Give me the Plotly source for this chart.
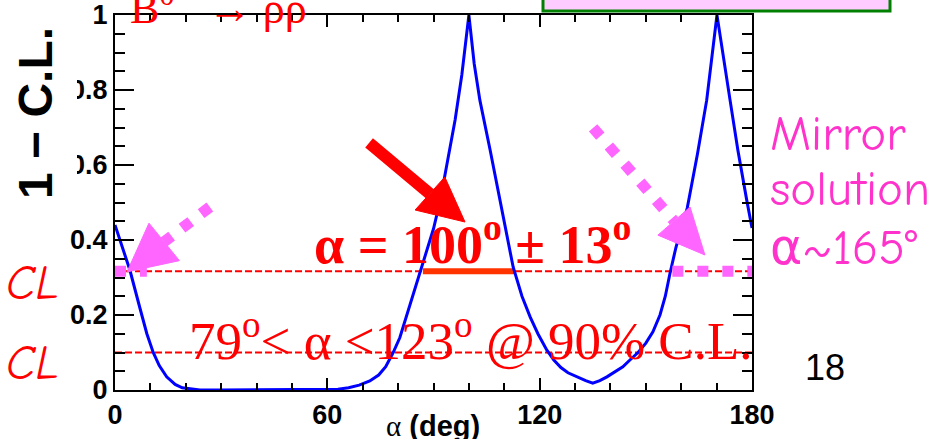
import plotly.graph_objects as go

# ---------------- data ----------------
alpha_deg = [0, 2, 4.2, 7, 9, 10.8, 12.5, 14.6, 17, 19, 21.5, 24, 30, 40, 50, 60, 63, 66, 69, 72,
             74.5, 76.5, 78.6, 80.5, 82.5, 84.5, 86.2, 88, 90, 92, 94, 96.1, 98, 100,
             101.5, 103.1, 106, 108.8, 110.5, 112.5, 115, 117.3, 119.5, 122, 124, 126, 128, 130.5,
             133, 135, 137, 139, 141, 143.5, 145.5, 147.8, 150, 152, 154, 155.5, 156.8, 158.5, 160,
             161.7, 163, 164.6, 167.2, 170.1, 173.8, 176, 178.5, 180]
one_minus_cl = [0.44, 0.38, 0.32, 0.22, 0.15, 0.10, 0.065, 0.035, 0.015, 0.006, 0.002, 0.0, 0.0, 0.0,
                0.0, 0.0, 0.002, 0.006, 0.013, 0.024, 0.04, 0.062, 0.10, 0.14, 0.20, 0.26, 0.315,
                0.37, 0.43, 0.51, 0.61, 0.72, 0.84, 1.0,
                0.87, 0.773, 0.64, 0.507, 0.43, 0.328, 0.25, 0.195, 0.15, 0.107, 0.08, 0.06, 0.046,
                0.035, 0.025, 0.018, 0.025, 0.035, 0.046, 0.062, 0.08, 0.10, 0.125, 0.155, 0.20, 0.25,
                0.31, 0.38, 0.43, 0.485, 0.55, 0.63, 0.773, 1.0, 0.773, 0.64, 0.507, 0.432]

cl_levels = [0.317, 0.10]          # 1 - 68.3% and 1 - 90%
alpha_best = 100
alpha_err = 13
mirror_range = [157.5, 181]
left_mirror_range = [0, 9]

x_ticks = [0, 60, 120, 180]
y_ticks = [0, 0.2, 0.4, 0.6, 0.8, 1]
y_tick_text = ["0", "0.2", "0.4", "0.6", "0.8", "1"]

# arrows (data units): tail, head-base-mid, tip, corner1, corner2
red_arrow = dict(tail=(71.8, 0.659), base=(89.0, 0.523), tip=(98.9, 0.448), c1=(93.2, 0.568), c2=(84.8, 0.48))
pink_left = dict(tail=(26.8, 0.488), base=(13.85, 0.395), tip=(3.39, 0.315), c1=(9.6, 0.445), c2=(18.2, 0.345))
pink_right = dict(tail=(135.1, 0.699), base=(157.95, 0.451), tip=(166.7, 0.36), c1=(162.5, 0.488), c2=(153.4, 0.413))

# ---------------- geometry ----------------
W, H = 946, 439
L, R, T, B = 115, 752, 15, 390


def px(x, y):
    return (x - L) / (R - L), (B - y) / (B - T)


fig = go.Figure()

RED = "#ff0000"
PINK = "#ff66ff"
PINKTXT = "#ff33cc"

for lvl in cl_levels:
    fig.add_trace(go.Scatter(x=[0, 180], y=[lvl, lvl], mode="lines",
                             line=dict(color=RED, width=2, dash="7px,3px"), hoverinfo="skip"))

fig.add_trace(go.Scatter(x=[alpha_best - alpha_err, alpha_best + alpha_err], y=[cl_levels[0]] * 2,
                         mode="lines", line=dict(color="#ff3300", width=6), hoverinfo="skip"))

fig.add_trace(go.Scatter(x=alpha_deg, y=one_minus_cl, mode="lines",
                         line=dict(color="#0000ff", width=3)))

# pink dotted segments
for rng in (mirror_range, left_mirror_range):
    fig.add_trace(go.Scatter(x=rng, y=[cl_levels[0]] * 2, mode="lines",
                             line=dict(color=PINK, width=11, dash="11px,14px"), hoverinfo="skip"))


def arrow(a, color, width, dash=None):
    fig.add_trace(go.Scatter(x=[a["tail"][0], a["base"][0]], y=[a["tail"][1], a["base"][1]],
                             mode="lines", line=dict(color=color, width=width, dash=dash or "solid"),
                             hoverinfo="skip"))
    fig.add_trace(go.Scatter(x=[a["tip"][0], a["c1"][0], a["c2"][0], a["tip"][0]],
                             y=[a["tip"][1], a["c1"][1], a["c2"][1], a["tip"][1]],
                             mode="lines", fill="toself", fillcolor=color,
                             line=dict(color=color, width=1), hoverinfo="skip"))


arrow(pink_left, PINK, 11, "11px,13px")
arrow(pink_right, PINK, 11, "11px,13px")
arrow(red_arrow, RED, 12)

annotations = []


def ann(text, x, y, size, color="black", family="Liberation Sans", weight="normal",
        style="normal", xanchor="center", yanchor="middle", angle=0, **kw):
    xp, yp = px(x, y)
    annotations.append(dict(text=text, x=xp, y=yp, xref="paper", yref="paper", showarrow=False,
                            xanchor=xanchor, yanchor=yanchor, textangle=angle,
                            font=dict(size=size, color=color, family=family, weight=weight, style=style),
                            **kw))


SERIF = "Liberation Serif, Times New Roman, serif"
COMIC = "Comic Sans MS, Comic Neue, DejaVu Sans"
NB = "\u00a0"

ann("B<sup>0</sup>" + NB * 3 + "→" + NB + "ρρ", 128, 35, 44, RED, SERIF, xanchor="left", yanchor="bottom")
ann("1 − C.L.", 36, 113, 48, "black", "Liberation Sans, Arial", weight="bold", angle=-90)
ann("<span style='font-family:Liberation Serif;font-weight:normal'>α</span> (deg)", 433, 426, 29,
    "black", "Liberation Sans, Arial", weight="bold")
ann("18", 825, 367, 36, "black", "Liberation Sans, Arial")
ann("CL", 32, 283, 48, RED, COMIC, style="italic")
ann("CL", 32, 363, 48, RED, COMIC, style="italic")
ann("Mirror", 768, 134, 49, PINKTXT, COMIC, xanchor="left")
ann("solution", 768, 189, 49, PINKTXT, COMIC, xanchor="left")
ann("α~165°", 768, 248, 49, PINKTXT, COMIC, xanchor="left")
ann("α = %d<sup>o</sup> ± %d<sup>o</sup>" % (alpha_best, alpha_err), 472, 240, 54, RED, SERIF, weight="bold")
ann("79<sup>o</sup>< α <123<sup>o</sup> @ 90% C.L.", 471, 337, 53, RED, SERIF)

shapes = []
# white box under the y title (clips the leading 0 of some tick labels, as in the original)
x0, y0 = px(0, 205)
x1, y1 = px(77, 22)
shapes.append(dict(type="rect", xref="paper", yref="paper", x0=x0, y0=y0, x1=x1, y1=y1,
                   fillcolor="white", line=dict(width=0), layer="above"))
# pink/green box at the top
bx0, by0 = px(543, 11)
bx1, by1 = px(890, -40)
shapes.append(dict(type="rect", xref="paper", yref="paper", x0=bx0, y0=by0, x1=bx1, y1=by1,
                   fillcolor="#ffccff", line=dict(color="#008000", width=3), layer="above"))

tickfont = dict(family="Liberation Sans, Arial", size=27, color="black", weight="bold")

fig.update_layout(
    width=W, height=H,
    margin=dict(l=L, r=W - R, t=T, b=H - B, pad=0, autoexpand=False),
    paper_bgcolor="white", plot_bgcolor="white",
    showlegend=False,
    annotations=annotations,
    shapes=shapes,
    xaxis=dict(range=[0, 180], tickvals=x_ticks, ticks="inside", ticklen=12, tickwidth=1.5,
               tickcolor="black", showline=True, linecolor="black", linewidth=2, mirror="ticks",
               showgrid=False, zeroline=False, tickfont=tickfont, ticklabelstandoff=0,
               automargin=False,
               minor=dict(dtick=10, ticks="inside", ticklen=7, tickcolor="black", tickwidth=1.5,
                          showgrid=False)),
    yaxis=dict(range=[0, 1], tickvals=y_ticks, ticktext=y_tick_text, ticks="inside", ticklen=19,
               tickwidth=1.5, tickcolor="black", showline=True, linecolor="black", linewidth=2,
               mirror="ticks", showgrid=False, zeroline=False, tickfont=tickfont, ticklabelstandoff=0,
               automargin=False,
               minor=dict(dtick=0.05, ticks="inside", ticklen=10, tickcolor="black", tickwidth=1.5,
                          showgrid=False)),
)

fig.write_html("out.html", config={"displayModeBar": False},
               post_script="document.body.style.margin='0';")
